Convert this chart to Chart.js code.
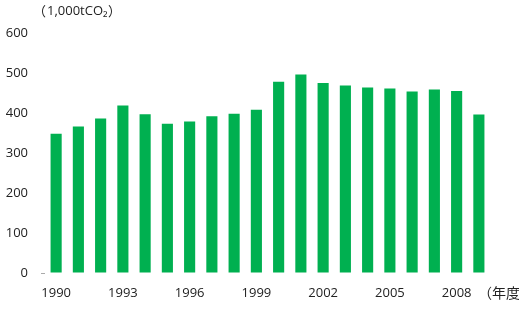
<!DOCTYPE html>
<html>
<head>
<meta charset="utf-8">
<script src="https://cdn.jsdelivr.net/npm/chart.js@4"></script>
<style>
  html, body { margin: 0; padding: 0; background: #fff; }
  #wrap { width: 519px; height: 313px; }
</style>
</head>
<body>
<div id="wrap"><canvas id="chart" width="519" height="313"></canvas></div>
<script>
// Fiscal years and emissions (1,000 tCO2)
const years = [1990, 1991, 1992, 1993, 1994, 1995, 1996, 1997, 1998, 1999,
               2000, 2001, 2002, 2003, 2004, 2005, 2006, 2007, 2008, 2009];
const emissions = [348, 366, 386, 419, 397, 373, 379, 392, 398, 408,
                   478, 496, 475, 469, 464, 461, 454, 459, 455, 396];
const yTicks = [0, 100, 200, 300, 400, 500, 600];
const unitLabel = '1,000tCO₂';
const yearLabel = '（年度';

const FONT = '"Open Sans", "Noto Sans CJK JP", sans-serif';

// Draws the unit text above the y axis and the year caption at the right
const captions = {
    id: 'captions',
    afterDraw(chart) {
        const c = chart.ctx;
        c.save();
        c.fillStyle = '#222';
        c.textBaseline = 'middle';
        c.textAlign = 'left';
        c.font = '13px "Noto Sans CJK JP", sans-serif';
        c.fillText('（', 33, 11);
        c.font = '13px ' + FONT;
        c.fillText(unitLabel, 47, 11);
        c.font = '13px "Noto Sans CJK JP", sans-serif';
        c.fillText('）', 108, 11);
        c.font = '14px "Noto Sans CJK JP", sans-serif';
        c.fillText(yearLabel, 478, 293);
        c.restore();
    }
};

new Chart(document.getElementById('chart'), {
    type: 'bar',
    data: {
        labels: years.map(String),
        datasets: [{
            data: emissions,
            backgroundColor: '#00B050',
            borderWidth: 0,
            barPercentage: 0.5,
            categoryPercentage: 1.0
        }]
    },
    options: {
        responsive: false,
        animation: false,
        layout: { padding: { top: 33, right: 29, bottom: 0, left: 0 } },
        plugins: {
            legend: { display: false },
            tooltip: { enabled: false }
        },
        scales: {
            x: {
                grid: { display: false },
                border: { display: false },
                afterFit: (scale) => { scale.height = 40; },
                ticks: {
                    autoSkip: false,
                    maxRotation: 0,
                    padding: 4,
                    color: '#222',
                    font: { family: FONT, size: 13 },
                    callback: (v, i) => (i % 3 === 0 ? years[i] : '')
                }
            },
            y: {
                min: 0,
                max: 600,
                afterFit: (scale) => { scale.width = 45; },
                afterBuildTicks: (scale) => { scale.ticks = yTicks.map(v => ({ value: v })); },
                grid: {
                    drawOnChartArea: false,
                    drawTicks: true,
                    tickLength: 4,
                    color: (ctx) => (ctx.tick && ctx.tick.value === 0 ? '#aaa' : 'rgba(0,0,0,0)')
                },
                border: { display: false },
                ticks: {
                    padding: 13,
                    color: '#222',
                    font: { family: FONT, size: 13 }
                }
            }
        }
    },
    plugins: [captions]
});
</script>
</body>
</html>
